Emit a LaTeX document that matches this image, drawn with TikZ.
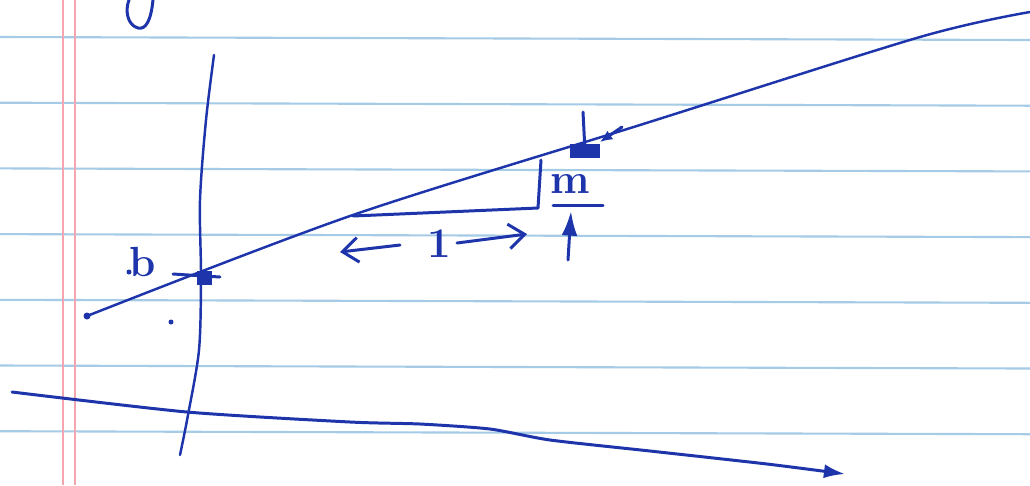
\documentclass[tikz,border=0pt]{standalone}
\usetikzlibrary{arrows, arrows.meta, math}
\definecolor{ink}{RGB}{30,52,170}
\definecolor{paperrule}{RGB}{165,203,230}
\definecolor{margin}{RGB}{245,165,175}

\begin{document}
\begin{tikzpicture}[x=0.02cm, y=-0.02cm,
  pen/.style={draw=ink, line width=1.7pt, line cap=round, line join=round},
  blob/.style={fill=ink, inner sep=0pt},
  hand/.style={text=ink, font=\fontsize{24}{24}\selectfont\bfseries, inner sep=0pt}]
\tikzmath{
\gap=65.7;
}
\useasboundingbox (0,0) rectangle (1030,485);
\fill[white] (0,0) rectangle (1030,485);

% ruled paper
\foreach \k in {0,...,6}{
\draw[paperrule, line width=1.2pt] (0,{37+\k*\gap}) -- (1030,{40+\k*\gap});
}
\draw[margin, line width=0.8pt] (63,0) -- (63,485);
\draw[margin, line width=0.8pt] (75,0) -- (75,485);

% loop of a letter cut off at the top
\draw[pen] (153,0) .. controls (151,20) and (146,30) .. (138,28) .. controls (127,25) and (125,10) .. (129,0);

% axes
\draw[pen, line width=1.4pt] plot[smooth] coordinates {(214,55) (206,120) (200,200) (201,277) (199,350) (188,415) (180,455)};
\draw[pen, -{Latex[length=12pt,width=8pt]}] plot[smooth, tension=0.4] coordinates {(12,392) (187,412) (350,422) (420,424) (490,429) (550,440) (650,451) (767,464) (845,474)};

% the line
\draw[pen, line width=1.4pt] plot[smooth] coordinates {(87,316) (350,216) (640,125) (920,37) (1030,12)};
\fill[ink] (87,316) circle (3.5);

% intercept
\node[blob, minimum width=0.3cm, minimum height=0.28cm] (icpt) at (204,278) {};
\coordinate (tickL) at (173,274);
\coordinate (tickR) at (220,277);
\draw[pen] (tickL) -- (tickR);
\node[hand, anchor=base] (blabel) at (143,276) {b};
\fill[ink] (129,272) circle (2.5);
\fill[ink] (171,322) circle (2.5);

% point one step further on
\node[blob, minimum width=0.6cm, minimum height=0.28cm] (pt) at (585,151) {};
\coordinate (ptop) at (583,112);
\draw[pen] (ptop) -- (pt.center);
\coordinate (ptail) at (622,127);
\draw[pen, -{Latex[length=7pt,width=6pt]}] (ptail) -- (600,142);

% slope triangle
\coordinate (runA) at (353,216);
\coordinate (runB) at (538,208);
\coordinate (riseB) at (541,160);
\draw[pen] (runA) -- (runB) -- (riseB);

% rise
\node[hand, anchor=base] (mlabel) at (570,193) {m};
\coordinate (barL) at (553,205);
\coordinate (barR) at (603,205);
\draw[pen] (barL) -- (barR);
\coordinate (upTail) at (568,260);
\coordinate (upHead) at (571,211);
\draw[pen, -{Latex[length=14pt,width=9pt]}] (upTail) -- (upHead);

% run
\node[hand] (one) at (439,244) {1};
\coordinate (leftTail) at (400,245);
\coordinate (leftHead) at (340,252);
\coordinate (rightTail) at (457,243);
\coordinate (rightHead) at (527,234);
\draw[pen, -{Straight Barb[length=9pt,width=14pt]}] (leftTail) -- (leftHead);
\draw[pen, -{Straight Barb[length=9pt,width=14pt]}] (rightTail) -- (rightHead);

\end{tikzpicture}
\end{document}
